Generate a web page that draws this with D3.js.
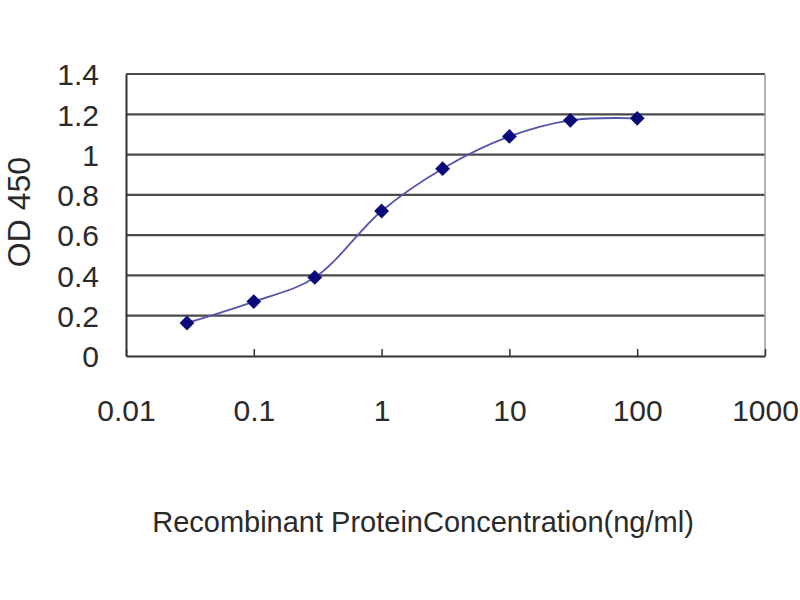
<!DOCTYPE html>
<html>
<head>
<meta charset="utf-8">
<script src="https://cdn.jsdelivr.net/npm/d3@7"></script>
<style>
  body { margin: 0; background: #fff; }
  text { font-family: "Liberation Sans", Arial, sans-serif; fill: #2a2a2a; }
</style>
</head>
<body>
<div id="chart"></div>
<script>
// Data
var concentrations = [0.03, 0.1, 0.3, 1, 3, 10, 30, 100];
var odValues = [0.164, 0.27, 0.39, 0.72, 0.93, 1.09, 1.17, 1.18];
var xTicks = [0.01, 0.1, 1, 10, 100, 1000];
var xTickLabels = ["0.01", "0.1", "1", "10", "100", "1000"];
var yTicks = [0, 0.2, 0.4, 0.6, 0.8, 1, 1.2, 1.4];
var yTickLabels = ["0", "0.2", "0.4", "0.6", "0.8", "1", "1.2", "1.4"];

var svgWidth = 800;
var svgHeight = 600;

var margin = { top: 74, right: 35, bottom: 244, left: 126 };
var width = svgWidth - margin.left - margin.right;
var height = svgHeight - margin.top - margin.bottom;

var svg = d3.select("#chart")
  .append("svg")
  .attr("width", svgWidth)
  .attr("height", svgHeight);

var chartGroup = svg.append("g")
  .attr("transform", `translate(${margin.left}, ${margin.top})`);

// Scales
var xScale = d3.scaleLog()
  .domain([0.01, 1000])
  .range([0, width]);

var yScale = d3.scaleLinear()
  .domain([0, 1.4])
  .range([height, 0]);

// Horizontal gridlines
chartGroup.selectAll(".grid")
  .data(yTicks.slice(1))
  .enter()
  .append("line")
  .attr("x1", 0)
  .attr("x2", width)
  .attr("y1", d => yScale(d))
  .attr("y2", d => yScale(d))
  .attr("stroke", "#4a4a4a")
  .attr("stroke-width", 2.2);

// Right border
chartGroup.append("line")
  .attr("x1", width).attr("x2", width)
  .attr("y1", 0).attr("y2", height)
  .attr("stroke", "#9a9a9a")
  .attr("stroke-width", 1.5);

// Axes
var bottomAxis = d3.axisBottom(xScale)
  .tickValues(xTicks)
  .tickFormat((d, i) => xTickLabels[i])
  .tickSizeInner(-7)
  .tickSizeOuter(0)
  .tickPadding(44);

var leftAxis = d3.axisLeft(yScale)
  .tickValues(yTicks)
  .tickFormat((d, i) => yTickLabels[i])
  .tickSize(0)
  .tickPadding(27);

var xAxisG = chartGroup.append("g")
  .attr("transform", `translate(0, ${height})`)
  .call(bottomAxis);

var yAxisG = chartGroup.append("g")
  .call(leftAxis);

[xAxisG, yAxisG].forEach(function(g) {
  g.select(".domain").attr("stroke", "#333").attr("stroke-width", 2);
  g.selectAll(".tick line").attr("stroke", "#333").attr("stroke-width", 1.5);
  g.selectAll(".tick text")
    .style("font-size", "30px")
    .style("font-family", "'Liberation Sans', Arial, sans-serif")
    .attr("fill", "#333");
});
yAxisG.selectAll(".tick text").attr("dy", "0.36em");

// Smoothed line
var line = d3.line()
  .x(d => xScale(d[0]))
  .y(d => yScale(d[1]))
  .curve(d3.curveCatmullRom.alpha(0.5));

var points = concentrations.map((c, i) => [c, odValues[i]]);

chartGroup.append("path")
  .datum(points)
  .attr("d", line)
  .attr("fill", "none")
  .attr("stroke", "#5555aa")
  .attr("stroke-width", 1.8);

// Diamond markers
var diamond = d3.symbol().type(d3.symbolDiamond2).size(140);
chartGroup.selectAll(".marker")
  .data(points)
  .enter()
  .append("path")
  .attr("d", diamond)
  .attr("transform", d => `translate(${xScale(d[0])}, ${yScale(d[1])})`)
  .attr("fill", "#0a0a78");

// Axis titles
svg.append("text")
  .attr("transform", "translate(30, 212) rotate(-90)")
  .attr("text-anchor", "middle")
  .style("font-size", "32px")
  .attr("fill", "#333")
  .text("OD 450");

svg.append("text")
  .attr("x", 423)
  .attr("y", 532)
  .attr("text-anchor", "middle")
  .style("font-size", "29px")
  .attr("fill", "#333")
  .text("Recombinant ProteinConcentration(ng/ml)");
</script>
</body>
</html>
